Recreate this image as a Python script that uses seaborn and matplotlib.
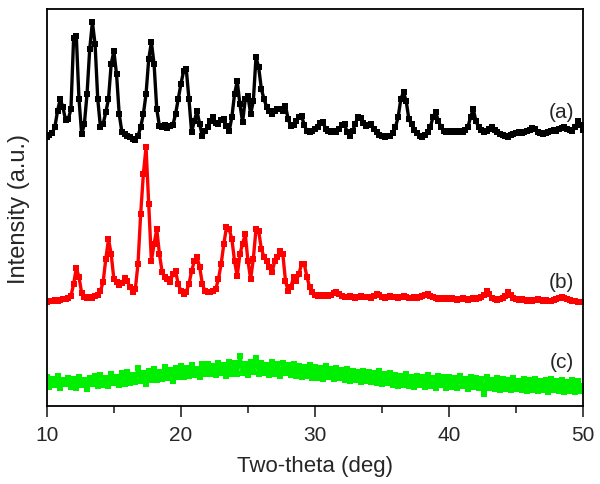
import numpy as np
import pandas as pd
import matplotlib
matplotlib.use('Agg')
import matplotlib.pyplot as plt
from matplotlib.ticker import MultipleLocator
import seaborn as sns

# 2-theta grid, 10 to 50 deg every 0.2 deg (201 points)
two_theta = np.linspace(10, 50, 201)

# intensities (arbitrary units, offsets included)
sample_a = [
    269, 271, 273, 279, 295, 307, 299, 286, 287, 297,
    368, 370, 307, 272, 282, 312, 357, 384, 362, 307,
    279, 282, 294, 307, 342, 355, 332, 292, 274, 272,
    270, 269, 267, 266, 270, 279, 292, 312, 347, 364,
    342, 297, 280, 279, 281, 278, 280, 281, 292, 307,
    322, 335, 337, 307, 274, 285, 295, 282, 270, 275,
    279, 285, 289, 283, 282, 286, 287, 280, 275, 289,
    312, 325, 302, 284, 307, 310, 292, 305, 349, 339,
    317, 307, 299, 295, 292, 295, 297, 297, 295, 300,
    287, 280, 281, 285, 289, 290, 281, 275, 274, 275,
    277, 279, 283, 284, 277, 275, 274, 275, 274, 277,
    281, 282, 274, 270, 275, 282, 289, 288, 283, 280,
    281, 282, 277, 274, 271, 270, 269, 270, 270, 273,
    279, 289, 307, 314, 305, 287, 282, 276, 273, 270,
    269, 271, 274, 279, 289, 294, 285, 279, 275, 274,
    275, 274, 275, 274, 275, 274, 276, 279, 289, 297,
    285, 279, 276, 274, 275, 277, 279, 276, 274, 272,
    271, 270, 269, 271, 272, 273, 274, 273, 274, 275,
    276, 278, 277, 274, 273, 272, 273, 274, 275, 276,
    275, 277, 278, 279, 277, 276, 275, 279, 285, 281,
    276,
]

sample_b = [
    104, 105, 105, 106, 105, 106, 107, 107, 108, 110,
    122, 138, 129, 113, 109, 108, 109, 108, 110, 111,
    115, 124, 147, 167, 152, 127, 124, 121, 123, 128,
    125, 119, 114, 117, 142, 192, 232, 259, 202, 145,
    162, 177, 152, 134, 129, 127, 124, 132, 135, 122,
    115, 112, 114, 122, 135, 145, 149, 139, 122, 115,
    114, 114, 115, 117, 127, 142, 162, 179, 177, 167,
    145, 130, 152, 162, 172, 145, 127, 147, 177, 175,
    157, 149, 145, 139, 134, 145, 149, 155, 152, 125,
    115, 119, 129, 125, 132, 142, 142, 129, 119, 114,
    111, 110, 111, 110, 111, 110, 111, 113, 114, 112,
    110, 109, 109, 110, 109, 108, 109, 110, 109, 109,
    109, 108, 110, 112, 111, 109, 108, 109, 110, 109,
    109, 108, 109, 110, 109, 108, 108, 109, 108, 109,
    110, 111, 112, 110, 109, 108, 107, 108, 107, 108,
    107, 108, 107, 106, 107, 108, 107, 106, 107, 108,
    107, 108, 109, 111, 115, 112, 108, 107, 106, 107,
    108, 110, 114, 111, 108, 107, 106, 107, 106, 105,
    106, 105, 106, 107, 106, 105, 106, 105, 105, 106,
    107, 108, 109, 108, 107, 106, 105, 105, 104, 104,
    104,
]

sample_c = [
    29, 19, 27, 21, 30, 18, 26, 22, 28, 19,
    27, 18, 29, 21, 26, 17, 28, 22, 30, 20,
    31, 21, 28, 20, 32, 23, 29, 21, 33, 22,
    34, 23, 31, 24, 38, 25, 33, 22, 35, 26,
    37, 26, 34, 27, 39, 28, 36, 25, 38, 29,
    40, 29, 38, 30, 41, 31, 37, 29, 42, 32,
    42, 32, 40, 31, 43, 33, 41, 30, 44, 32,
    43, 32, 50, 33, 42, 31, 44, 34, 48, 32,
    43, 33, 41, 31, 44, 32, 42, 30, 43, 33,
    41, 31, 42, 30, 40, 29, 39, 30, 41, 28,
    39, 28, 38, 27, 40, 29, 37, 27, 38, 28,
    36, 26, 37, 25, 35, 26, 34, 24, 35, 25,
    34, 24, 33, 23, 35, 22, 32, 23, 33, 21,
    31, 20, 30, 21, 32, 20, 29, 19, 30, 21,
    29, 19, 31, 20, 28, 18, 30, 21, 29, 18,
    29, 19, 28, 18, 30, 20, 27, 17, 29, 19,
    28, 18, 27, 12, 29, 18, 26, 17, 28, 16,
    27, 17, 26, 16, 28, 17, 25, 16, 27, 15,
    26, 16, 27, 15, 25, 16, 26, 14, 27, 16,
    25, 15, 26, 14, 24, 15, 26, 14, 25, 15,
    20,
]

names = ['(a)', '(b)', '(c)']
colors = ['black', '#ff0000', '#00ee00']
widths = [2.4, 2.4, 2.6]

sns.set_style('ticks')
plt.rcParams['font.family'] = ['Liberation Sans', 'DejaVu Sans']

fig = plt.figure(figsize=(6, 4.85), dpi=100)
ax = fig.add_axes([0.078, 0.161, 0.894, 0.818])

for vals, name, col, lw in zip([sample_a, sample_b, sample_c], names, colors, widths):
    df = pd.DataFrame({'two_theta': two_theta, 'intensity': vals})
    sns.lineplot(data=df, x='two_theta', y='intensity', color=col, ax=ax,
                 linewidth=lw, marker='s', markersize=3.8,
                 markeredgewidth=0, sort=False, estimator=None)

# labels next to each pattern
ax.text(48.4, 295, names[0], fontsize=15, ha='center', va='center')
ax.text(48.4, 125, names[1], fontsize=15, ha='center', va='center')
ax.text(48.4, 44, names[2], fontsize=15, ha='center', va='center')

ax.set_xlim(10, 50)
ax.set_ylim(0, 397)
ax.set_xticks([10, 20, 30, 40, 50])
ax.xaxis.set_minor_locator(MultipleLocator(5))
ax.set_yticks([])
ax.tick_params(axis='x', which='major', direction='out', length=8, width=1.2,
               labelsize=15, pad=6)
ax.tick_params(axis='x', which='minor', direction='out', length=5, width=1.2)
for sp in ax.spines.values():
    sp.set_linewidth(1.3)
    sp.set_color('black')

ax.set_xlabel('Two-theta (deg)', fontsize=16, labelpad=8)
ax.set_ylabel('Intensity (a.u.)', fontsize=17, labelpad=12)

fig.savefig('out.png', dpi=100)
